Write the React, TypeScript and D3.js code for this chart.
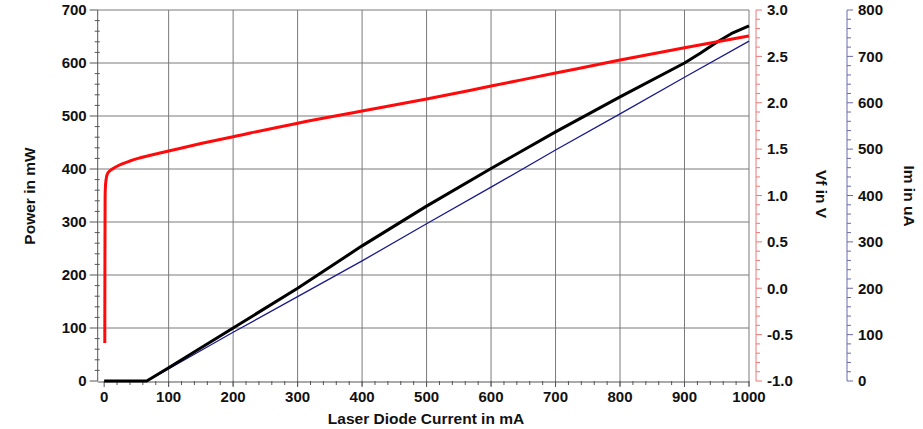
import React from "react";
import * as d3 from "d3";

// ---- data ----
const powerCurrent = [0, 30, 66, 100, 200, 300, 400, 500, 600, 700, 800, 900, 925, 950, 975, 1000];
const powerValues = [0, 0, 0, 25, 100, 175, 255, 330, 401, 470, 536, 600, 619, 639, 657, 670];

const imCurrent = [67, 200, 300, 400, 500, 600, 700, 800, 900, 1000];
const imValues = [0, 105, 182, 259, 339, 418, 498, 576, 655, 733];

const vfCurrent = [1.0, 1.2, 1.5, 2.2, 3, 4, 6, 11.5, 20, 27, 40, 52.7, 75, 100, 150, 200, 300, 400, 500, 600, 700, 800, 900, 1000];
const vfValues = [-0.59, 0.3, 1.0, 1.12, 1.17, 1.21, 1.245, 1.28, 1.315, 1.338, 1.372, 1.40, 1.44, 1.48, 1.56, 1.634, 1.78, 1.91, 2.04, 2.18, 2.32, 2.46, 2.594, 2.72];

const xTicks = [0, 100, 200, 300, 400, 500, 600, 700, 800, 900, 1000];
const powerTicks = [0, 100, 200, 300, 400, 500, 600, 700];
const vfTicks = [-1.0, -0.5, 0.0, 0.5, 1.0, 1.5, 2.0, 2.5, 3.0];
const imTicks = [0, 100, 200, 300, 400, 500, 600, 700, 800];

const FONT = "'Liberation Sans', Arial, Helvetica, sans-serif";
const TICK_FS = 15;
const TITLE_FS = 15.5;

export default function App() {
  const left = 97.7, right = 749, top = 10, bottom = 381;
  const x = d3.scaleLinear().domain([-10, 1000]).range([left, right]);
  const yP = d3.scaleLinear().domain([0, 700]).range([bottom, top]);
  const yV = d3.scaleLinear().domain([-1, 3]).range([bottom, top]);
  const yI = d3.scaleLinear().domain([0, 800]).range([bottom, top]);

  const vfAxisX = 756;
  const imAxisX = 847;

  const powerLine = d3.line<number>().x((d, i) => x(powerCurrent[i])).y((d) => yP(d))(powerValues) || "";
  const imLine = d3.line<number>().x((d, i) => x(imCurrent[i])).y((d) => yI(d))(imValues) || "";
  const vfLine = d3.line<number>().x((d, i) => x(vfCurrent[i])).y((d) => yV(d)).curve(d3.curveMonotoneX)(vfValues) || "";

  const minorX = d3.range(0, 1001, 20).filter((v) => v % 100 !== 0);
  const minorP = d3.range(0, 701, 20).filter((v) => v % 100 !== 0);
  const minorV = d3.range(-10, 31, 1).map((v) => v / 10).filter((v, i) => i % 5 !== 0);
  const minorI = d3.range(0, 801, 20).filter((v) => v % 100 !== 0);

  const gridColor = "#7a7a7a";
  const vfColor = "#ee7777";
  const imColor = "#6a6aaa";

  return (
    <svg width={923} height={429} style={{ position: "absolute", left: 0, top: 0, background: "#fff" }} fontFamily={FONT}>
      {/* grid */}
      {xTicks.filter((t) => t > 0 && t < 1000).map((t) => (
        <line key={"gx" + t} x1={x(t)} x2={x(t)} y1={top} y2={bottom + 5} stroke={gridColor} strokeWidth={1} />
      ))}
      {powerTicks.filter((t) => t > 0).map((t) => (
        <line key={"gy" + t} x1={left} x2={right} y1={yP(t)} y2={yP(t)} stroke={gridColor} strokeWidth={1} />
      ))}
      {/* frame */}
      <line x1={right} x2={right} y1={top} y2={bottom + 5} stroke={gridColor} strokeWidth={1} />
      <line x1={left} x2={left} y1={top} y2={bottom} stroke="#555" strokeWidth={1} />
      <line x1={left} x2={right} y1={bottom + 1} y2={bottom + 1} stroke="#555" strokeWidth={1} />

      {/* left axis ticks */}
      {powerTicks.map((t) => (
        <g key={"pt" + t}>
          <line x1={left - 8} x2={left} y1={yP(t)} y2={yP(t)} stroke="#555" />
          <text x={left - 11} y={yP(t)} dy="0.35em" textAnchor="end" fontSize={TICK_FS} fontWeight="bold" fill="#111">{t}</text>
        </g>
      ))}
      {minorP.map((t) => (
        <line key={"pm" + t} x1={left - 3} x2={left + 2} y1={yP(t)} y2={yP(t)} stroke="#555" />
      ))}

      {/* bottom axis ticks */}
      {xTicks.map((t) => (
        <g key={"xt" + t}>
          <line x1={x(t)} x2={x(t)} y1={bottom} y2={bottom + 6} stroke="#555" />
          <text x={x(t)} y={bottom + 21} textAnchor="middle" fontSize={TICK_FS} fontWeight="bold" fill="#111">{t}</text>
        </g>
      ))}
      {minorX.map((t) => (
        <line key={"xm" + t} x1={x(t)} x2={x(t)} y1={bottom} y2={bottom + 4} stroke="#555" />
      ))}

      {/* Vf axis */}
      <line x1={vfAxisX} x2={vfAxisX} y1={top} y2={bottom} stroke={vfColor} />
      {vfTicks.map((t) => (
        <g key={"vt" + t}>
          <line x1={vfAxisX} x2={vfAxisX + 6} y1={yV(t)} y2={yV(t)} stroke={vfColor} />
          <text x={vfAxisX + 11} y={yV(t)} dy="0.35em" textAnchor="start" fontSize={TICK_FS} fontWeight="bold" fill="#111">{t.toFixed(1)}</text>
        </g>
      ))}
      {minorV.map((t) => (
        <line key={"vm" + t} x1={vfAxisX} x2={vfAxisX + 4} y1={yV(t)} y2={yV(t)} stroke={vfColor} />
      ))}

      {/* Im axis */}
      <line x1={imAxisX} x2={imAxisX} y1={top} y2={bottom} stroke={imColor} />
      {imTicks.map((t) => (
        <g key={"it" + t}>
          <line x1={imAxisX} x2={imAxisX + 6} y1={yI(t)} y2={yI(t)} stroke={imColor} />
          <text x={imAxisX + 11} y={yI(t)} dy="0.35em" textAnchor="start" fontSize={TICK_FS} fontWeight="bold" fill="#111">{t}</text>
        </g>
      ))}
      {minorI.map((t) => (
        <line key={"im" + t} x1={imAxisX} x2={imAxisX + 4} y1={yI(t)} y2={yI(t)} stroke={imColor} />
      ))}

      {/* data lines */}
      <path d={imLine} fill="none" stroke="#1a1a8c" strokeWidth={1.3} />
      <path d={powerLine} fill="none" stroke="#000" strokeWidth={3} strokeLinejoin="round" />
      <path d={vfLine} fill="none" stroke="#ff0a0a" strokeWidth={3} strokeLinejoin="round" />

      {/* titles */}
      <text transform={`translate(35,196) rotate(-90)`} textAnchor="middle" fontSize={TITLE_FS} fontWeight="bold" fill="#111">Power  in mW</text>
      <text x={426} y={424} textAnchor="middle" fontSize={TITLE_FS} fontWeight="bold" fill="#111">Laser Diode Current in mA</text>
      <text transform={`translate(816,194) rotate(90)`} textAnchor="middle" fontSize={TITLE_FS} fontWeight="bold" fill="#111">Vf in V</text>
      <text transform={`translate(904,196) rotate(90)`} textAnchor="middle" fontSize={TITLE_FS} fontWeight="bold" fill="#111">Im in uA</text>
    </svg>
  );
}
